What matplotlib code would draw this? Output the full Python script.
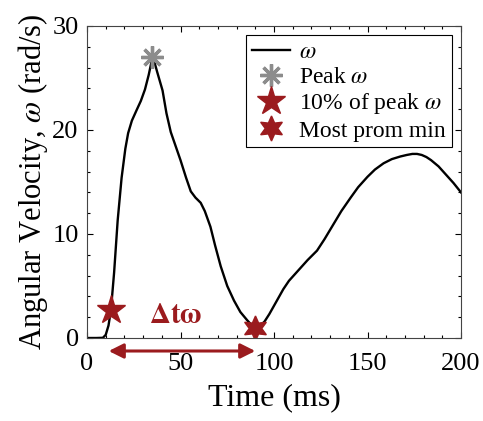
import numpy as np
import matplotlib
matplotlib.use("Agg")
import matplotlib.pyplot as plt
from matplotlib.ticker import MultipleLocator

plt.rcParams['font.family'] = ['Liberation Serif', 'DejaVu Serif']
plt.rcParams['mathtext.fontset'] = 'stix'

# angular velocity trace (ms, rad/s)
time_ms = [0, 5, 8.5, 10, 11.5, 12.8, 14.5, 16.4, 18.5, 20.5, 22, 24, 26.5, 28.8,
           31, 33, 34.3, 35, 35.8, 37.5, 40.4, 42.5, 44.8, 47.5, 50, 53, 55.5,
           58, 60.8, 63, 66, 68.5, 71.5, 75, 78.6, 82, 85.7, 88, 90, 92.5, 95,
           97.5, 100, 102.5, 105, 108, 111, 114, 118, 123, 127, 132, 136, 141,
           145, 150, 154, 158.6, 163, 167.5, 171, 174, 176.5, 179, 181.5, 184,
           188, 192, 196, 200]
omega = [0, 0, 0.02, 0.3, 1.2, 2.7, 6.3, 11.3, 15.4, 18.2, 19.7, 20.9, 21.9, 22.8,
         23.9, 25.3, 26.4, 27.0, 26.7, 25.6, 23.8, 21.6, 19.8, 18.4, 17.1, 15.4,
         14.1, 13.5, 13.0, 12.2, 10.7, 8.9, 6.9, 5.0, 3.6, 2.5, 1.7, 1.25, 1.05,
         1.15, 1.6, 2.3, 3.1, 3.9, 4.7, 5.5, 6.1, 6.7, 7.5, 8.4, 9.5, 11.0, 12.2,
         13.5, 14.5, 15.5, 16.2, 16.8, 17.2, 17.45, 17.6, 17.7, 17.7, 17.6, 17.4,
         17.1, 16.5, 15.7, 14.9, 14.0]

peak_t, peak_w = 35, 27.0
onset_t, onset_w = 12.8, 2.7
min_t, min_w = 90, 1.0

dark_red = '#9b1b1e'

fig = plt.figure(figsize=(4.83, 4.21), dpi=100)
ax = fig.add_axes([87 / 483, 1 - 338 / 421, (461 - 87) / 483, (338 - 26) / 421])

ax.plot(time_ms, omega, color='black', lw=1.7, label=r'$\omega$',
        solid_joinstyle='round')
ax.plot(peak_t, peak_w, ls='none', marker=(8, 2, 0), ms=16, mew=2.4,
        color='#8c8c8c', label=r'Peak $\omega$')
ax.plot(onset_t, onset_w, ls='none', marker='*', ms=21,
        color=dark_red, label=r'10% of peak $\omega$')
ax.plot(min_t, min_w, ls='none', marker=(6, 1, 0), ms=18,
        color=dark_red, label='Most prom min')

# delta-t arrow beneath the axis
ax.annotate('', xy=(min_t, -1.25), xytext=(onset_t - 1.2, -1.25),
            arrowprops=dict(arrowstyle='<|-|>', color=dark_red, lw=2.2,
                            mutation_scale=22, shrinkA=0, shrinkB=0),
            annotation_clip=False)
ax.text(47.5, 2.1, r'$\mathbf{\Delta t\omega}$', color=dark_red, fontsize=21,
        ha='center', va='center')

ax.set_xlim(0, 200)
ax.set_ylim(0, 30)
ax.xaxis.set_major_locator(MultipleLocator(50))
ax.xaxis.set_minor_locator(MultipleLocator(10))
ax.yaxis.set_major_locator(MultipleLocator(10))
ax.yaxis.set_minor_locator(MultipleLocator(2))
ax.tick_params(which='both', direction='in', top=True, right=True,
               labelsize=19, width=0.8, colors='black')
ax.tick_params(which='major', length=4)
ax.tick_params(axis='x', which='major', pad=11)
ax.tick_params(axis='y', which='major', pad=6)
ax.tick_params(which='minor', length=2)
for s in ax.spines.values():
    s.set_linewidth(0.8)
    s.set_color('#444444')

ax.set_xlabel('Time (ms)', fontsize=23, labelpad=6)
ax.set_ylabel(r'Angular Velocity, $\omega$ (rad/s)', fontsize=22, labelpad=2)

leg = ax.legend(loc='upper right', fontsize=17, frameon=True, fancybox=False,
                edgecolor='black', framealpha=1, handlelength=1.6,
                handletextpad=0.4, borderpad=0.25, labelspacing=0.15,
                borderaxespad=0.4)
leg.get_frame().set_linewidth(0.8)

fig.savefig('out.png', dpi=100)
